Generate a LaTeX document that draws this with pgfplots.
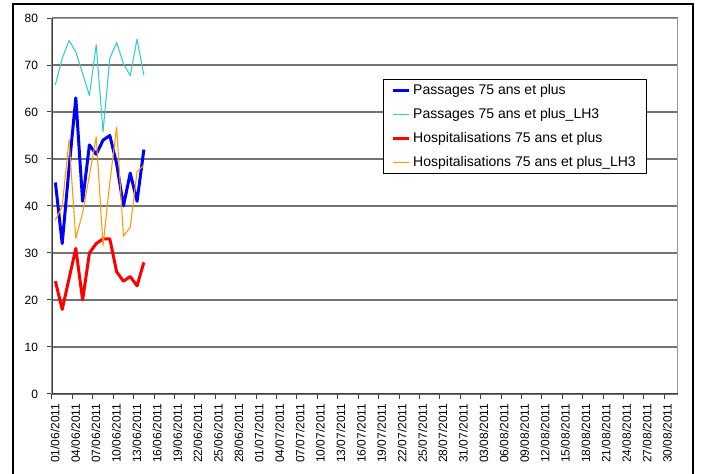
\documentclass[border=0pt]{standalone}
\usepackage{pgfplots}
\pgfplotsset{compat=1.18}
\usepackage{fontspec}
\setmainfont{Liberation Sans}
\definecolor{cblue}{RGB}{0,0,255}
\definecolor{ccyan}{RGB}{51,204,204}
\definecolor{cred}{RGB}{255,0,0}
\definecolor{corange}{RGB}{255,153,0}
\begin{document}
\begin{tikzpicture}
\useasboundingbox (-39pt,-60pt) rectangle (486.75pt,295.5pt);
\draw[black, line width=1.6pt] (-29.25pt,-80pt) -- (-29.25pt,292.5pt) -- (480.75pt,292.5pt) -- (480.75pt,-80pt);
\begin{axis}[
  scale only axis,
  width=469.5pt, height=282pt,
  xmin=0, xmax=92, ymin=0, ymax=80,
  ytick={0,10,...,80},
  xtick={0,3,...,90},
  xticklabels={},
  extra x ticks={0.45,3.45,...,90.45},
  extra x tick labels={01/06/2011,04/06/2011,07/06/2011,10/06/2011,13/06/2011,16/06/2011,19/06/2011,22/06/2011,25/06/2011,28/06/2011,01/07/2011,04/07/2011,07/07/2011,10/07/2011,13/07/2011,16/07/2011,19/07/2011,22/07/2011,25/07/2011,28/07/2011,31/07/2011,03/08/2011,06/08/2011,09/08/2011,12/08/2011,15/08/2011,18/08/2011,21/08/2011,24/08/2011,27/08/2011,30/08/2011},
  extra x tick style={grid=none, tick style={draw=none}},
  xticklabel style={rotate=90, anchor=east, font=\fontsize{9}{10}\selectfont, inner xsep=3.5pt},
  yticklabel style={font=\fontsize{9}{10}\selectfont, xshift=-3.5pt},
  /pgf/number format/assume math mode=true,
  xtick pos=left, ytick pos=left,
  tick align=outside,
  major tick length=3.5pt,
  tick style={black!75, line width=0.75pt},
  ymajorgrids,
  grid style={black!55, line width=0.9pt},
  axis line style={draw=black!40, line width=0.75pt},
  legend style={at={(0.529,0.838)}, anchor=north west, draw=black, line width=0.6pt,
    font=\fontsize{10.5}{12}\selectfont, row sep=5pt, inner xsep=6pt, inner ysep=1.5pt,
    cells={anchor=west}},
  legend image code/.code={\draw[#1] (0pt,0pt) -- (12pt,0pt);},
  legend cell align=left,
]
\addplot[cblue, line width=2.25pt, line join=round] coordinates {
(0.5,45) (1.5,32) (2.5,48) (3.5,63) (4.5,41) (5.5,53) (6.5,51) (7.5,54) (8.5,55) (9.5,49) (10.5,40) (11.5,47) (12.5,41) (13.5,52)};
\addlegendentry{Passages 75 ans et plus}
\addplot[ccyan, line width=0.8pt, line join=round] coordinates {
(0.5,65.8) (1.5,71.4) (2.5,75.2) (3.5,72.8) (4.5,68.2) (5.5,63.5) (6.5,74.3) (7.5,55.8) (8.5,71.4) (9.5,74.8) (10.5,70.3) (11.5,67.7) (12.5,75.5) (13.5,67.8)};
\addlegendentry{Passages 75 ans et plus\_LH3}
\addplot[cred, line width=2.25pt, line join=round] coordinates {
(0.5,24) (1.5,18) (2.5,24.5) (3.5,31) (4.5,20) (5.5,30) (6.5,32) (7.5,33) (8.5,33) (9.5,26) (10.5,24) (11.5,25) (12.5,23) (13.5,28)};
\addlegendentry{Hospitalisations 75 ans et plus}
\addplot[corange, line width=0.8pt, line join=round] coordinates {
(0.5,37.0) (1.5,39.9) (2.5,54.1) (3.5,33.1) (4.5,38.5) (5.5,46.5) (6.5,54.7) (7.5,31.6) (8.5,45.0) (9.5,56.8) (10.5,33.6) (11.5,35.5) (12.5,47.3) (13.5,48.7)};
\addlegendentry{Hospitalisations 75 ans et plus\_LH3}
\draw[black!75, line width=1.5pt] (rel axis cs:0,1) -- (rel axis cs:0,0) -- (rel axis cs:1,0);
\end{axis}
\end{tikzpicture}
\end{document}
